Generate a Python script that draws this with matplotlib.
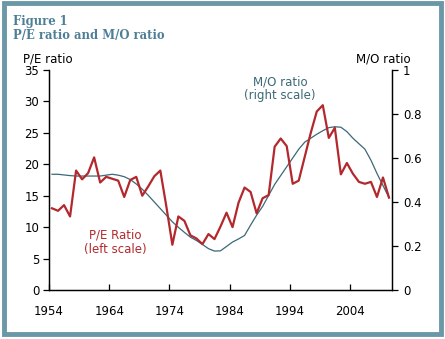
import matplotlib.pyplot as plt
from matplotlib.patches import Rectangle
import numpy as np

years = np.arange(1954, 2011)

pe_ratio = [13.0, 12.6, 13.5, 11.7, 19.0, 17.6, 18.6, 21.1, 17.1, 18.0,
            17.7, 17.4, 14.8, 17.5, 18.0, 15.0, 16.5, 18.1, 19.0, 13.3,
            7.2, 11.7, 11.0, 8.7, 8.2, 7.3, 8.9, 8.1, 10.1, 12.3,
            10.0, 13.9, 16.3, 15.6, 12.2, 14.6, 15.1, 22.8, 24.1, 22.9,
            16.9, 17.4, 21.2, 25.0, 28.4, 29.4, 24.2, 25.8, 18.4, 20.2,
            18.5, 17.2, 16.9, 17.2, 14.8, 17.9, 14.7]

mo_ratio = [0.526, 0.526, 0.523, 0.520, 0.518, 0.518, 0.518, 0.518, 0.518, 0.522,
            0.526, 0.522, 0.515, 0.502, 0.482, 0.458, 0.430, 0.400, 0.370, 0.340,
            0.310, 0.285, 0.262, 0.240, 0.225, 0.207, 0.188, 0.177, 0.178, 0.198,
            0.218, 0.232, 0.248, 0.295, 0.340, 0.380, 0.430, 0.480, 0.520, 0.560,
            0.600, 0.640, 0.672, 0.690, 0.708, 0.724, 0.738, 0.742, 0.740, 0.720,
            0.690, 0.665, 0.640, 0.590, 0.530, 0.475, 0.420]

pe_ticks = [0, 5, 10, 15, 20, 25, 30, 35]
mo_ticks = [0, 0.2, 0.4, 0.6, 0.8, 1]
mo_tick_labels = ['0', '0.2', '0.4', '0.6', '0.8', '1']
year_ticks = [1954, 1964, 1974, 1984, 1994, 2004]

red = '#b3282d'
teal = '#3b6877'
frame = '#6b98a6'
title_col = '#4f7f96'

W, H = 445, 339
fig = plt.figure(figsize=(W / 100, H / 100), dpi=100)
fig.patch.set_facecolor('white')

# outer frame
fig.patches.append(Rectangle((3.5 / W, 1 - 333.5 / H), 437 / W, 331 / H,
                             transform=fig.transFigure, fill=False,
                             edgecolor=frame, linewidth=3.5))

ax = fig.add_axes([49 / W, 1 - 290 / H, 343 / W, 220 / H])
ax2 = ax.twinx()

x = years + 0.5
ax2.plot(x, mo_ratio, color=teal, linewidth=0.9, zorder=2)
ax.plot(x, pe_ratio, color=red, linewidth=1.6, zorder=3)
ax.set_zorder(ax2.get_zorder() + 1)
ax.patch.set_visible(False)

ax.set_xlim(1954, 2011)
ax.set_ylim(0, 35)
ax2.set_ylim(0, 1)
ax.set_xticks(year_ticks)
ax.set_yticks(pe_ticks)
ax2.set_yticks(mo_ticks)
ax2.set_yticklabels(mo_tick_labels)

for a in (ax, ax2):
    a.spines['top'].set_visible(False)
    for s in a.spines.values():
        s.set_linewidth(0.9)
ax.tick_params(axis='y', direction='out', length=4, width=0.9, labelsize=8.5, pad=3)
ax.tick_params(axis='x', direction='in', length=4, width=0.9, labelsize=8.5, pad=11)
ax2.tick_params(axis='y', direction='out', length=4, width=0.9, labelsize=8.5, pad=4)

fig.text(13 / W, 1 - 25 / H, 'Figure 1', fontsize=8.4, fontweight='bold',
         family='DejaVu Serif', color=title_col)
fig.text(13 / W, 1 - 39 / H, 'P/E ratio and M/O ratio', fontsize=8.4,
         fontweight='bold', family='DejaVu Serif', color=title_col)
fig.text(23 / W, 1 - 62 / H, 'P/E ratio', fontsize=8.5, color='black')
fig.text(411 / W, 1 - 62 / H, 'M/O ratio', fontsize=8.5, color='black', ha='right')

fig.text(280 / W, 1 - 89 / H, 'M/O ratio\n(right scale)', fontsize=8.5,
         color=teal, ha='center', va='center', linespacing=1.1)
fig.text(115 / W, 1 - 242 / H, 'P/E Ratio\n(left scale)', fontsize=8.5,
         color=red, ha='center', va='center', linespacing=1.1)

fig.savefig('out.png', dpi=100)
